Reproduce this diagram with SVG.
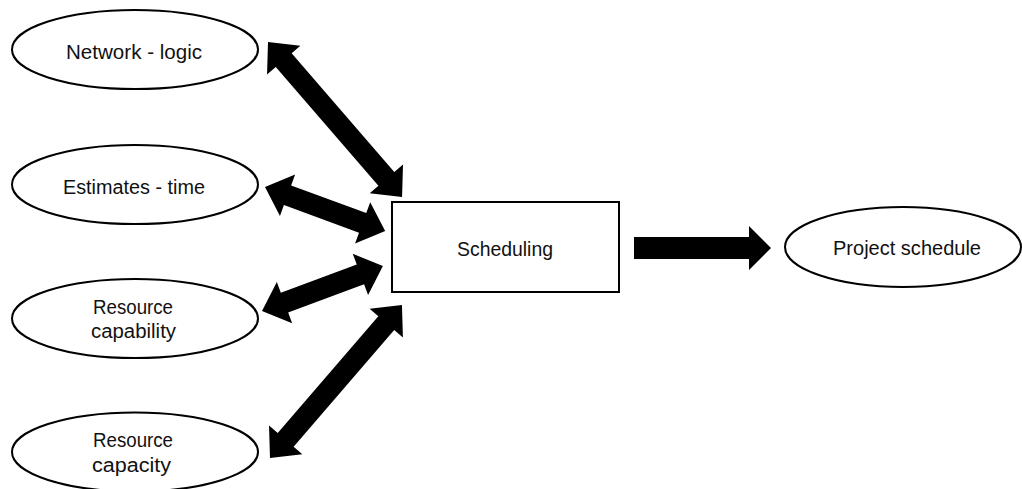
<svg xmlns="http://www.w3.org/2000/svg" width="1022" height="489" viewBox="0 0 1022 489">
<style>
.node{fill:#fff;stroke:#000;stroke-width:2}
.lbl{font-family:"Liberation Sans",Arial,sans-serif;font-size:20px;fill:#111;text-anchor:middle}
.arr{fill:#000;stroke:none}
</style>
<rect width="1022" height="489" fill="#fff"/>
<g id="connectors">
<polygon class="arr" transform="translate(268,42) rotate(49.16)" points="0,0 24,-22 24,-10.5 181,-10.5 181,-22 205,0 181,22 181,10.5 24,10.5 24,22"/>
<polygon class="arr" transform="translate(265,187) rotate(20.14)" points="0,0 24,-22 24,-10.5 104,-10.5 104,-22 128,0 104,22 104,10.5 24,10.5 24,22"/>
<polygon class="arr" transform="translate(262,311) rotate(-20.4)" points="0,0 24,-22 24,-10.5 105,-10.5 105,-22 129,0 105,22 105,10.5 24,10.5 24,22"/>
<polygon class="arr" transform="translate(270,458) rotate(-49.22)" points="0,0 24,-22 24,-10.5 178,-10.5 178,-22 202,0 178,22 178,10.5 24,10.5 24,22"/>
<polygon class="arr" points="634,237 749,237 749,226 771,248 749,270 749,259 634,259"/>
</g>
<g id="network-logic">
<ellipse class="node" cx="135" cy="49.5" rx="123" ry="39.5"/>
<text class="lbl" x="134" y="59" textLength="136" lengthAdjust="spacingAndGlyphs">Network - logic</text>
</g>
<g id="estimates-time">
<ellipse class="node" cx="135" cy="184.5" rx="123" ry="39.5"/>
<text class="lbl" x="134" y="193.5" textLength="142" lengthAdjust="spacingAndGlyphs">Estimates - time</text>
</g>
<g id="resource-capability">
<ellipse class="node" cx="135" cy="318.5" rx="123" ry="39.5"/>
<text class="lbl" x="133" y="314" textLength="80" lengthAdjust="spacingAndGlyphs">Resource</text>
<text class="lbl" x="133.5" y="338" textLength="85" lengthAdjust="spacingAndGlyphs">capability</text>
</g>
<g id="resource-capacity">
<ellipse class="node" cx="135" cy="452" rx="123" ry="39.5"/>
<text class="lbl" x="133" y="447" textLength="80" lengthAdjust="spacingAndGlyphs">Resource</text>
<text class="lbl" x="131.5" y="472" textLength="79" lengthAdjust="spacingAndGlyphs">capacity</text>
</g>
<g id="scheduling">
<rect class="node" x="392" y="202" width="227" height="90"/>
<text class="lbl" x="505" y="255.5" textLength="96" lengthAdjust="spacingAndGlyphs">Scheduling</text>
</g>
<g id="project-schedule">
<ellipse class="node" cx="903" cy="247" rx="118" ry="40"/>
<text class="lbl" x="907" y="255" textLength="148" lengthAdjust="spacingAndGlyphs">Project schedule</text>
</g>
</svg>
